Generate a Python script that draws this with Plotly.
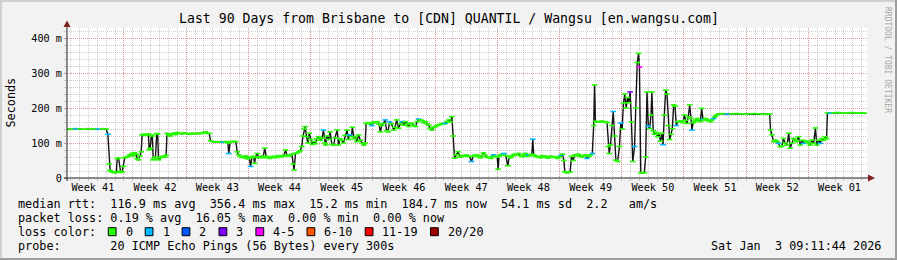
import plotly.graph_objects as go

# ---------------- data (x = days since start of the 90 day window) ----------------
days = [
    0.0, 0.5, 1.0, 1.5, 2.0, 2.5, 3.0, 3.5, 4.0, 4.4,
    4.6, 4.75, 4.85, 5.0, 5.2, 5.4, 5.55, 5.65, 5.8, 5.95, 6.05, 6.2, 6.35, 6.5, 6.7, 6.9, 7.1, 7.3, 7.45, 7.6, 7.75, 7.9, 8.05, 8.2, 8.35,
    8.45, 8.6, 8.8, 9.0, 9.15, 9.25, 9.35, 9.5, 9.6, 9.7, 9.8, 9.95, 10.1, 10.2, 10.3, 10.45, 10.6, 10.8, 11.0, 11.15, 11.25, 11.45, 11.6, 11.8,
    12.0, 12.2, 12.4, 12.6, 12.9, 13.2, 13.5, 13.8, 14.1, 14.4, 14.7, 15.0, 15.3, 15.55, 15.8, 16.0,
    16.15, 16.4, 16.7, 17.0, 17.3, 17.6, 17.9, 18.1, 18.2, 18.35, 18.55, 18.8, 19.0,
    19.15, 19.3, 19.5, 19.7, 19.9, 20.1, 20.3, 20.5, 20.65, 20.8, 21.0, 21.1, 21.2, 21.4, 21.55, 21.7, 21.9, 22.05, 22.25, 22.4, 22.6, 22.8,
    23.0, 23.2, 23.4, 23.6, 23.8, 24.0, 24.2, 24.4, 24.6, 24.75, 24.9, 25.1, 25.3, 25.45, 25.55, 25.7, 25.9, 26.1, 26.25,
    26.4, 26.55, 26.7, 26.8, 26.95, 27.1, 27.25, 27.4, 27.6, 27.75, 27.95, 28.1, 28.3, 28.5, 28.7, 28.85, 29.0, 29.1, 29.25, 29.45, 29.6, 29.8,
    30.0, 30.15, 30.4, 30.55, 30.7, 30.9, 31.1, 31.3, 31.5, 31.65, 31.8, 32.0, 32.1, 32.3, 32.45, 32.6, 32.8, 33.0, 33.2, 33.4, 33.55,
    33.65, 33.9, 34.1, 34.3, 34.5, 34.7, 34.9, 35.1, 35.25, 35.4, 35.6, 35.8, 35.95, 36.1, 36.3, 36.5, 36.75, 36.9, 37.1, 37.3, 37.5, 37.7, 37.9,
    38.05, 38.3, 38.45, 38.6, 38.8, 39.0, 39.2, 39.4, 39.55, 39.75, 39.95, 40.1, 40.3, 40.5, 40.7, 40.85, 41.05, 41.25, 41.45, 41.6, 41.8,
    42.0, 42.2, 42.4, 42.55, 42.75, 42.95, 43.1, 43.3, 43.45,
    43.6, 43.8, 44.0, 44.2, 44.45, 44.7, 44.9, 45.1, 45.3, 45.5, 45.7, 45.9, 46.1, 46.3, 46.5, 46.7, 46.85, 47.0, 47.2, 47.45, 47.7, 47.85,
    48.0, 48.2, 48.4, 48.5, 48.6, 48.8, 49.0, 49.15, 49.35, 49.6, 49.75, 49.9, 50.1, 50.3, 50.5, 50.8, 51.0, 51.2, 51.4, 51.55, 51.75, 51.95,
    52.15, 52.3, 52.4, 52.5, 52.7, 52.9, 53.1, 53.3, 53.5, 53.7, 53.9, 54.1, 54.3, 54.5, 54.75, 55.0, 55.2, 55.4, 55.6, 55.75, 55.9,
    56.0, 56.2, 56.4, 56.6, 56.75, 56.95, 57.1, 57.3, 57.5, 57.7, 57.9, 58.1, 58.3, 58.5, 58.7, 58.9, 59.1,
    59.25, 59.35, 59.45, 59.6, 59.8, 60.0, 60.2, 60.4, 60.6, 60.75, 60.9, 61.0, 61.15, 61.3, 61.45, 61.6, 61.75, 61.95, 62.15, 62.3, 62.45,
    62.6, 62.75, 62.9, 63.05, 63.2, 63.35, 63.5, 63.65, 63.85, 64.0, 64.15, 64.3, 64.4, 64.55, 64.75, 64.95, 65.1, 65.25, 65.4, 65.55, 65.7,
    65.8, 65.95, 66.1, 66.3, 66.45, 66.6, 66.75, 66.9, 67.05,
    67.2, 67.35, 67.5, 67.65, 67.8, 67.95, 68.1, 68.25, 68.4, 68.55, 68.7, 68.9, 69.1, 69.3, 69.45, 69.6, 69.75, 69.9, 70.05, 70.2, 70.3,
    70.45, 70.6, 70.75, 70.9, 71.1, 71.25, 71.4, 71.55, 71.7, 71.85, 72.0, 72.2, 72.4, 72.55, 72.75, 72.9, 73.05,
    73.3, 73.8, 74.3, 74.8, 75.3, 75.8, 76.3, 76.8, 77.3, 77.8, 78.3, 78.8, 79.05,
    79.15, 79.3, 79.5, 79.7, 79.9, 80.05, 80.25, 80.45, 80.6, 80.8, 81.0, 81.2, 81.35, 81.55, 81.75, 81.95, 82.1, 82.3, 82.5, 82.7, 82.85,
    83.05, 83.25, 83.45, 83.6, 83.8, 84.0, 84.2, 84.35, 84.55, 84.75, 84.95, 85.1, 85.3, 85.45,
    85.55, 85.9, 86.3, 86.7, 87.1, 87.5, 87.9, 88.3, 88.7, 89.1, 89.5, 89.8,
]

median_ms = [
    140, 139, 141, 140, 139, 141, 140, 139, 141, 140,
    125, 40, 22, 18, 16, 15, 17, 55, 57, 20, 16, 17, 33, 58, 60, 62, 66, 70, 63, 72, 68, 55, 52, 63, 75,
    123, 125, 122, 124, 126, 80, 85, 123, 120, 52, 55, 60, 127, 125, 52, 58, 60, 62, 60, 65, 127, 124, 120, 126,
    128, 124, 130, 128, 126, 129, 127, 125, 128, 126, 128, 127, 129, 132, 128, 127,
    106, 104, 103, 104, 103, 102, 104, 100, 70, 102, 104, 105, 104,
    75, 66, 62, 60, 58, 63, 55, 60, 33, 58, 62, 42, 60, 70, 58, 60, 62, 58, 85, 62, 58, 56,
    60, 62, 58, 60, 64, 60, 62, 65, 80, 64, 62, 66, 68, 40, 23, 70, 72, 75, 78,
    90, 120, 140, 147, 118, 100, 128, 110, 96, 104, 98, 112, 118, 108, 114, 137, 100, 94, 120, 110, 132, 96,
    94, 115, 137, 94, 112, 108, 100, 122, 137, 110, 123, 118, 145, 112, 118, 104, 123, 108, 99, 94, 100,
    156, 158, 155, 150, 160, 158, 161, 154, 132, 150, 156, 166, 135, 132, 160, 155, 137, 145, 166, 142, 155, 161, 151,
    161, 154, 147, 156, 156, 150, 147, 161, 168, 166, 164, 158, 161, 155, 151, 142, 137, 145, 147, 150, 151,
    153, 156, 154, 156, 161, 166, 160, 175, 120,
    57, 66, 75, 60, 64, 62, 66, 63, 61, 47, 62, 65, 66, 61, 58, 64, 72, 66, 60, 58, 56, 62,
    66, 62, 60, 25, 62, 66, 68, 70, 64, 35, 62, 58, 63, 68, 66, 70, 64, 61, 66, 70, 62, 66,
    64, 68, 111, 66, 63, 60, 61, 58, 64, 60, 62, 57, 60, 62, 59, 61, 56, 60, 66, 68, 50,
    18, 15, 16, 17, 62, 50, 66, 64, 68, 62, 60, 64, 66, 56, 62, 66, 70,
    150, 266, 162, 160, 161, 160, 162, 160, 161, 158, 90, 70, 95, 150, 190, 120, 51, 47, 90, 157, 140,
    214, 240, 200, 230, 215, 246, 160, 47, 90, 200, 330, 356, 317, 15, 16, 15, 60, 246, 148, 141, 180,
    246, 135, 125, 130, 118, 126, 105, 128, 95,
    180, 251, 240, 150, 110, 125, 141, 209, 205, 150, 161, 161, 163, 158, 180, 165, 156, 175, 209, 170, 137,
    158, 161, 165, 170, 166, 161, 199, 167, 165, 170, 166, 163, 161, 166, 170, 175, 180,
    183, 184, 182, 183, 184, 183, 182, 183, 184, 183, 182, 183, 183,
    137, 123, 104, 108, 104, 99, 89, 92, 113, 100, 94, 128, 85, 100, 113, 108, 104, 118, 94, 108, 99,
    106, 104, 100, 94, 108, 99, 143, 94, 108, 99, 113, 108, 118, 112,
    186, 185, 186, 187, 186, 185, 186, 187, 186, 185, 186, 185,
]

# samples that lost packets (out of 20 pings)
loss_days = [1.0, 3.5, 4.6, 17.6, 18.2, 20.65, 28.85, 31.8, 34.3, 35.8, 36.3, 37.7, 39.55, 42.55, 45.5,
             48.0, 49.15, 51.95, 52.4, 55.6, 58.5, 59.1, 61.45, 62.3, 63.35, 63.85, 64.4, 65.4, 67.05,
             68.55, 70.3, 71.55, 72.75, 74.3, 80.05, 82.85, 84.75, 85.9]
loss_counts = [1, 1, 1, 1, 1, 1, 1, 1, 1, 1, 1, 1, 1, 1, 1,
               1, 1, 1, 1, 1, 1, 1, 1, 1, 3, 1, 4, 1, 1,
               1, 1, 1, 1, 1, 1, 1, 1, 1]

loss_labels = ["0", "1", "2", "3", "4-5", "6-10", "11-19", "20/20"]
loss_palette = ["#26ff00", "#00b8ff", "#0059ff", "#7e00ff", "#ff00ff", "#ff5500", "#ff0000", "#a10000"]
loss_lower = [0, 1, 2, 3, 4, 6, 11, 20]

week_labels = ["Week 41", "Week 42", "Week 43", "Week 44", "Week 45", "Week 46", "Week 47",
               "Week 48", "Week 49", "Week 50", "Week 51", "Week 52", "Week 01"]
first_week_start = -0.59   # start of "Week 41", in days from the window start
span_days = 90

y_tick_vals = [0, 100, 200, 300, 400]
y_tick_text = ["0", "100 m", "200 m", "300 m", "400 m"]
y_top = 428.57

title = "Last 90 Days from Brisbane to [CDN] QUANTIL / Wangsu [en.wangsu.com]"
stats_rtt = "median rtt:  116.9 ms avg  356.4 ms max  15.2 ms min  184.7 ms now  54.1 ms sd  2.2   am/s"
stats_loss = "packet loss: 0.19 % avg  16.05 % max  0.00 % min  0.00 % now"
probe_line = "probe:       20 ICMP Echo Pings (56 Bytes) every 300s"
stamp = "Sat Jan  3 09:11:44 2026"

# ---------------- styling ----------------
W, H = 897, 260
L, R, T, B = 67, 30, 28, 82
PW, PH = W - L - R, H - T - B
MONO = "DejaVu Sans Mono"
BACK = "#f2f2f2"
SHADEA = "#cfcfcf"
SHADEB = "#9e9e9e"
GRID = "rgba(143,143,143,0.45)"
MGRID = "rgba(222,79,79,0.45)"
ARROW = "#801f1f"
AXIS = "#1f1f1f"
CW = 7.1  # legend character width (px)


def PX(x):
    return (x - L) / PW


def PY(y):
    return (H - B - y) / PH


def nb(s):
    return s.replace(" ", "\u00a0")


def bucket(n):
    idx = 0
    for i, lo in enumerate(loss_lower):
        if n >= lo:
            idx = i
    return idx


loss_map = dict(zip(loss_days, loss_counts))
point_colors = [loss_palette[bucket(loss_map.get(d, 0))] for d in days]

week_starts = [first_week_start + 7 * k for k in range(len(week_labels))]
week_mid = [w + 3.5 for w in week_starts]
week_lines = [w for w in week_starts if 0 < w < span_days]
day_lines = [first_week_start % 1 + k for k in range(span_days)]

fig = go.Figure()
fig.add_trace(go.Scatter(
    x=days, y=median_ms, mode="lines",
    line=dict(color="#141414", width=1.4),
    hoverinfo="skip", showlegend=False, xaxis="x", yaxis="y",
))
fig.add_trace(go.Scatter(
    x=days, y=median_ms, mode="markers",
    marker=dict(symbol="line-ew", size=4, color=point_colors,
                line=dict(color=point_colors, width=1.6)),
    hoverinfo="skip", showlegend=False, xaxis="x2", yaxis="y",
))

axis_font = dict(family=MONO, size=10.2, color="#000000")
fig.update_layout(
    width=W, height=H,
    margin=dict(l=L, r=R, t=T, b=B, pad=0),
    paper_bgcolor=BACK, plot_bgcolor="#ffffff",
    showlegend=False,
    xaxis=dict(
        range=[0, span_days], domain=[0, 1],
        tickmode="array", tickvals=week_lines, ticktext=["" for _ in week_lines],
        showticklabels=False, ticks="outside", ticklen=2, tickcolor=MGRID, tickwidth=1,
        showgrid=True, gridcolor=MGRID, griddash="1px,1px", gridwidth=1,
        minor=dict(tickmode="array", tickvals=day_lines, showgrid=True, gridcolor=GRID,
                   griddash="1px,1px", gridwidth=1, ticks="outside", ticklen=2, tickcolor=GRID),
        zeroline=False, showline=False, fixedrange=True,
    ),
    xaxis2=dict(
        range=[0, span_days], overlaying="x", anchor="y", side="bottom",
        tickmode="array", tickvals=week_mid, ticktext=week_labels,
        ticks="", showgrid=False, zeroline=False, showline=False,
        tickfont=axis_font, fixedrange=True, ticklabelstandoff=2,
    ),
    yaxis=dict(
        range=[0, y_top], domain=[0, 1],
        tickmode="array", tickvals=y_tick_vals, ticktext=y_tick_text,
        ticks="outside", ticklen=2, tickcolor=MGRID,
        showgrid=True, gridcolor=MGRID, griddash="1px,1px", gridwidth=1,
        minor=dict(dtick=20, tick0=0, showgrid=True, gridcolor=GRID,
                   griddash="1px,1px", gridwidth=1, ticks="outside", ticklen=2, tickcolor=GRID),
        zeroline=False, showline=False, tickfont=axis_font, fixedrange=True,
    ),
)

shapes = []
# axes with arrows
shapes.append(dict(type="line", xref="paper", yref="paper", x0=PX(64), x1=PX(869), y0=PY(178), y1=PY(178),
                   line=dict(color=AXIS, width=1)))
shapes.append(dict(type="line", xref="paper", yref="paper", x0=PX(67), x1=PX(67), y0=PY(181), y1=PY(25),
                   line=dict(color=AXIS, width=1)))
shapes.append(dict(type="path", xref="paper", yref="paper",
                   path=f"M {PX(868)} {PY(174.5)} L {PX(875)} {PY(178)} L {PX(868)} {PY(181.5)} Z",
                   fillcolor=ARROW, line=dict(color=ARROW, width=0)))
shapes.append(dict(type="path", xref="paper", yref="paper",
                   path=f"M {PX(63.5)} {PY(27)} L {PX(67)} {PY(20.5)} L {PX(70.5)} {PY(27)} Z",
                   fillcolor=ARROW, line=dict(color=ARROW, width=0)))
# 3d frame
shapes.append(dict(type="rect", xref="paper", yref="paper", x0=PX(0), x1=PX(W), y0=PY(0), y1=PY(2),
                   fillcolor=SHADEA, line=dict(width=0)))
shapes.append(dict(type="rect", xref="paper", yref="paper", x0=PX(0), x1=PX(2), y0=PY(0), y1=PY(H),
                   fillcolor=SHADEA, line=dict(width=0)))
shapes.append(dict(type="rect", xref="paper", yref="paper", x0=PX(0), x1=PX(W), y0=PY(H - 2), y1=PY(H),
                   fillcolor=SHADEB, line=dict(width=0)))
shapes.append(dict(type="rect", xref="paper", yref="paper", x0=PX(W - 2), x1=PX(W), y0=PY(0), y1=PY(H),
                   fillcolor=SHADEB, line=dict(width=0)))

annotations = []


def text(s, x, y, size=11.8, xanchor="left", angle=0, color="#000000"):
    annotations.append(dict(text=nb(s), x=PX(x), y=PY(y), xref="paper", yref="paper",
                            xanchor=xanchor, yanchor="middle", showarrow=False, textangle=angle,
                            font=dict(family=MONO, size=size, color=color)))


text(title, 448.5, 18.5, size=13.2, xanchor="center")
text("Seconds", 10.5, 103, size=11.8, xanchor="center", angle=-90)
text("RRDTOOL / TOBI OETIKER", 888, 60, size=8, xanchor="center", angle=90, color="#a8a8a8")

x0 = 16
line_y = [204, 218, 231.7, 246]
text(stats_rtt, x0, line_y[0])
text(stats_loss, x0, line_y[1])
text("loss color:", x0, line_y[2])
text(probe_line, x0, line_y[3])
text(stamp, 883, line_y[3], xanchor="right")

lx = x0 + 13 * CW + 15.3
for lab, col in zip(loss_labels, loss_palette):
    shapes.append(dict(type="rect", xref="paper", yref="paper",
                       x0=PX(lx - 15.3), x1=PX(lx - 7.5), y0=PY(line_y[2] + 4), y1=PY(line_y[2] - 4),
                       fillcolor=col, line=dict(color="#000000", width=1)))
    text(lab, lx, line_y[2])
    lx += 15.3 + len(lab) * CW + 14.5

fig.update_layout(shapes=shapes, annotations=annotations)
fig.write_html("out.html")
